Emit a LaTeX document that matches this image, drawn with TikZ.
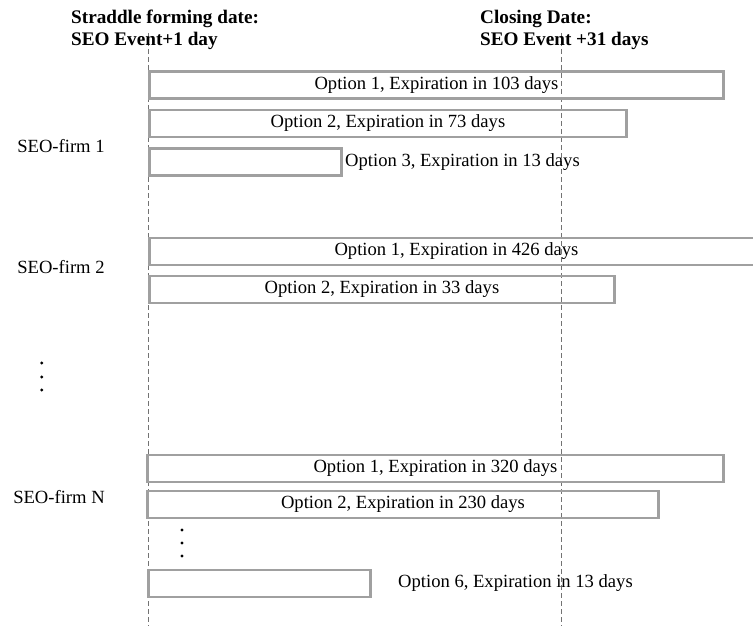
\documentclass[tikz,border=0pt]{standalone}
\usepackage{fontspec}
\setmainfont{Liberation Serif}
\definecolor{boxgray}{RGB}{160,160,160}
\definecolor{linegray}{RGB}{115,115,115}
\begin{document}
\begin{tikzpicture}[x=1pt,y=-1pt,
  bar/.style={draw=boxgray,line width=2.9pt,minimum height=27pt,inner sep=0pt,anchor=west,
              font=\fontsize{18.6}{20}\selectfont},
  lbl/.style={font=\fontsize{18.6}{20}\selectfont,inner sep=0pt},
  hdr/.style={font=\fontsize{19.2}{21}\selectfont\bfseries,anchor=base west,inner sep=0pt},
  guide/.style={draw=linegray,line width=0.7pt,dash pattern=on 5pt off 3pt},
  dotstyle/.style={fill=black,circle,inner sep=0pt,minimum size=3.2pt}]
\useasboundingbox (0,0) rectangle (753,626);

% guide lines
\coordinate (lt) at (148,33);
\coordinate (lb) at (148,626);
\coordinate (rt) at (561,33);
\coordinate (rb) at (561,626);
\draw[guide] (lt) -- (lb);
\draw[guide] (rt) -- (rb);

% headers
\node[hdr] (h1a) at (71,23.5) {Straddle forming date:};
\node[hdr] (h1b) at (71,45.7) {SEO Event+1 day};
\node[hdr] (h2a) at (480,23.5) {Closing Date:};
\node[hdr] (h2b) at (480,45.7) {SEO Event +31 days};

% firm labels
\node[lbl] (f1) at (61,146) {SEO-firm 1};
\node[lbl] (f2) at (61,267) {SEO-firm 2};
\node[lbl] (fn) at (59,497) {SEO-firm N};

% SEO-firm 1
\node[bar,minimum width=574pt] (a1) at (148,85) {Option 1, Expiration in 103 days};
\node[bar,minimum width=477pt] (a2) at (148,123.5) {Option 2, Expiration in 73 days};
\node[bar,minimum width=192pt] (a3) at (148,162) {};
\node[lbl,anchor=west] (a3t) at (345,162) {Option 3, Expiration in 13 days};

% SEO-firm 2
\node[bar,minimum width=614pt] (b1) at (148,251.5) {Option 1, Expiration in 426 days};
\node[bar,minimum width=465pt] (b2) at (148,289.5) {Option 2, Expiration in 33 days};

% SEO-firm N
\node[bar,minimum width=576pt] (n1) at (146,468.5) {Option 1, Expiration in 320 days};
\node[bar,minimum width=511pt] (n2) at (146,504.5) {Option 2, Expiration in 230 days};
\node[bar,minimum width=222pt] (n6) at (147,583.5) {};
\node[lbl,anchor=west] (n6t) at (398,583) {Option 6, Expiration in 13 days};

% vertical ellipses
\node[dotstyle] (d1) at (41.7,363) {};
\node[dotstyle] (d2) at (41.7,377) {};
\node[dotstyle] (d3) at (41.7,390) {};
\node[dotstyle] (e1) at (182,530) {};
\node[dotstyle] (e2) at (182,543) {};
\node[dotstyle] (e3) at (182,556) {};
\end{tikzpicture}
\end{document}
